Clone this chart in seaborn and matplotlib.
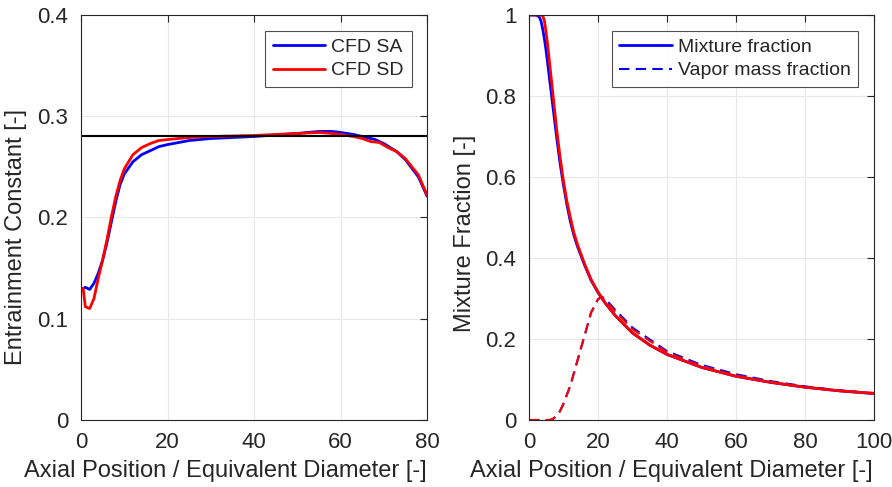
import matplotlib
matplotlib.use("Agg")
import matplotlib.pyplot as plt
import seaborn as sns
import numpy as np
import pandas as pd

# Left panel: entrainment constant along the jet axis
x_sa = [0.5, 1, 2, 3, 4, 5, 6, 7, 8, 9, 10, 12, 14, 16, 18, 20, 25, 30, 40, 50, 55, 58,
        60, 63, 65, 68, 70, 73, 75, 78, 80]
k_sa = [0.130, 0.131, 0.129, 0.135, 0.145, 0.158, 0.175, 0.195, 0.215, 0.232, 0.243,
        0.255, 0.262, 0.266, 0.270, 0.272, 0.276, 0.278, 0.280, 0.283, 0.285, 0.285,
        0.284, 0.282, 0.280, 0.277, 0.273, 0.265, 0.257, 0.240, 0.221]
x_sd = [0.5, 1, 2, 3, 4, 5, 6, 7, 8, 9, 10, 12, 14, 16, 18, 20, 25, 30, 40, 50, 55, 58,
        60, 63, 65, 67, 69, 71, 73, 75, 78, 80]
k_sd = [0.130, 0.112, 0.110, 0.120, 0.140, 0.158, 0.178, 0.200, 0.220, 0.236, 0.248,
        0.262, 0.269, 0.273, 0.276, 0.277, 0.279, 0.280, 0.281, 0.283, 0.284, 0.283,
        0.282, 0.280, 0.278, 0.275, 0.274, 0.269, 0.265, 0.258, 0.242, 0.222]
k_ref = 0.28

# Right panel: mixture fraction and vapor mass fraction
x_mix = [0, 1, 2, 3, 3.5, 4, 4.5, 5, 5.5, 6, 6.5, 7, 7.5, 8, 9, 10, 11, 12, 13, 14, 16,
         18, 20, 22, 25, 30, 35, 40, 50, 60, 70, 80, 90, 100]
f_sa = [1.0, 1.0, 1.0, 0.995, 0.985, 0.965, 0.94, 0.91, 0.875, 0.84, 0.805, 0.77, 0.735,
        0.70, 0.635, 0.58, 0.532, 0.49, 0.457, 0.43, 0.385, 0.345, 0.315, 0.29, 0.258,
        0.215, 0.185, 0.162, 0.130, 0.108, 0.093, 0.081, 0.072, 0.065]
f_sd = [1.0, 1.0, 1.0, 1.0, 1.0, 0.998, 0.985, 0.955, 0.92, 0.88, 0.84, 0.80, 0.76,
        0.72, 0.65, 0.59, 0.54, 0.50, 0.463, 0.435, 0.388, 0.347, 0.316, 0.29, 0.258,
        0.215, 0.185, 0.162, 0.130, 0.108, 0.093, 0.081, 0.072, 0.066]
x_vap = [0, 2, 4, 6, 7, 8, 9, 10, 12, 14, 16, 18, 20, 21, 22, 25, 30, 40, 50, 60, 70,
         80, 90, 100]
v_sa = [0.0, 0.0, 0.0, 0.0, 0.003, 0.010, 0.022, 0.040, 0.085, 0.145, 0.205, 0.265,
        0.298, 0.305, 0.300, 0.272, 0.228, 0.170, 0.136, 0.113, 0.096, 0.083, 0.073,
        0.066]
v_sd = [0.0, 0.0, 0.0, 0.0, 0.003, 0.010, 0.022, 0.040, 0.085, 0.145, 0.205, 0.265,
        0.298, 0.303, 0.297, 0.268, 0.224, 0.167, 0.133, 0.110, 0.094, 0.081, 0.072,
        0.065]

sns.set_style("whitegrid")
plt.rcParams["font.family"] = ["Liberation Sans", "DejaVu Sans"]
txt = "#262626"
plt.rcParams.update({
    "axes.edgecolor": txt, "axes.linewidth": 0.8, "text.color": txt,
    "axes.labelcolor": txt, "xtick.color": txt, "ytick.color": txt,
    "grid.color": "#e8e8e8", "grid.linewidth": 0.8,
})

fig = plt.figure(figsize=(8.92, 4.87), dpi=100)
ax1 = fig.add_axes([0.0908, 0.1376, 0.388, 0.8316])
ax2 = fig.add_axes([0.593, 0.1376, 0.3868, 0.8316])

df_sa = pd.DataFrame({"x": x_sa, "k": k_sa})
df_sd = pd.DataFrame({"x": x_sd, "k": k_sd})
sns.lineplot(data=df_sa, x="x", y="k", ax=ax1, color="#0000ff", lw=2, label="CFD SA",
             sort=False, estimator=None)
sns.lineplot(data=df_sd, x="x", y="k", ax=ax1, color="#ff0000", lw=2, label="CFD SD",
             sort=False, estimator=None)
ax1.axhline(k_ref, color="black", lw=1.5)
ax1.set_xlim(0, 80)
ax1.set_ylim(0, 0.4)
ax1.set_xticks([0, 20, 40, 60, 80])
ax1.set_yticks([0, 0.1, 0.2, 0.3, 0.4])
ax1.set_yticklabels(["0", "0.1", "0.2", "0.3", "0.4"])
ax1.set_xlabel("Axial Position / Equivalent Diameter [-]", fontsize=17)
ax1.set_ylabel("Entrainment Constant [-]", fontsize=17)
ax1.xaxis.set_label_coords(0.416, -0.098)
ax1.yaxis.set_label_coords(-0.155, 0.452)

df_mix_sa = pd.DataFrame({"x": x_mix, "f": f_sa})
df_mix_sd = pd.DataFrame({"x": x_mix, "f": f_sd})
df_vap_sa = pd.DataFrame({"x": x_vap, "f": v_sa})
df_vap_sd = pd.DataFrame({"x": x_vap, "f": v_sd})
sns.lineplot(data=df_mix_sa, x="x", y="f", ax=ax2, color="#0000ff", lw=2,
             label="Mixture fraction", sort=False, estimator=None)
sns.lineplot(data=df_vap_sa, x="x", y="f", ax=ax2, color="#0000ff", lw=1.5,
             ls=(0, (5, 3)), label="Vapor mass fraction", sort=False, estimator=None)
sns.lineplot(data=df_mix_sd, x="x", y="f", ax=ax2, color="#ff0000", lw=2,
             sort=False, estimator=None)
sns.lineplot(data=df_vap_sd, x="x", y="f", ax=ax2, color="#ff0000", lw=1.5,
             ls=(0, (5, 3)), sort=False, estimator=None)
ax2.set_xlim(0, 100)
ax2.set_ylim(0, 1)
ax2.set_xticks([0, 20, 40, 60, 80, 100])
ax2.set_yticks([0, 0.2, 0.4, 0.6, 0.8, 1.0])
ax2.set_yticklabels(["0", "0.2", "0.4", "0.6", "0.8", "1"])
ax2.set_xlabel("Axial Position / Equivalent Diameter [-]", fontsize=17)
ax2.set_ylabel("Mixture Fraction [-]", fontsize=17)
ax2.xaxis.set_label_coords(0.414, -0.098)
ax2.yaxis.set_label_coords(-0.154, 0.462)

for ax in (ax1, ax2):
    ax.tick_params(direction="in", length=5, width=0.8, labelsize=16,
                   top=True, right=True, pad=9)
    ax.grid(True)
    for s in ax.spines.values():
        s.set_visible(True)
        s.set_color(txt)
    leg = ax.legend(loc="upper right", fontsize=14, frameon=True, fancybox=False,
                    handlelength=2.7, handletextpad=0.3, borderpad=0.4,
                    labelspacing=0.3, borderaxespad=0.8)
    leg.get_frame().set_edgecolor(txt)
    leg.get_frame().set_linewidth(0.8)

fig.savefig("out.png", dpi=100)
